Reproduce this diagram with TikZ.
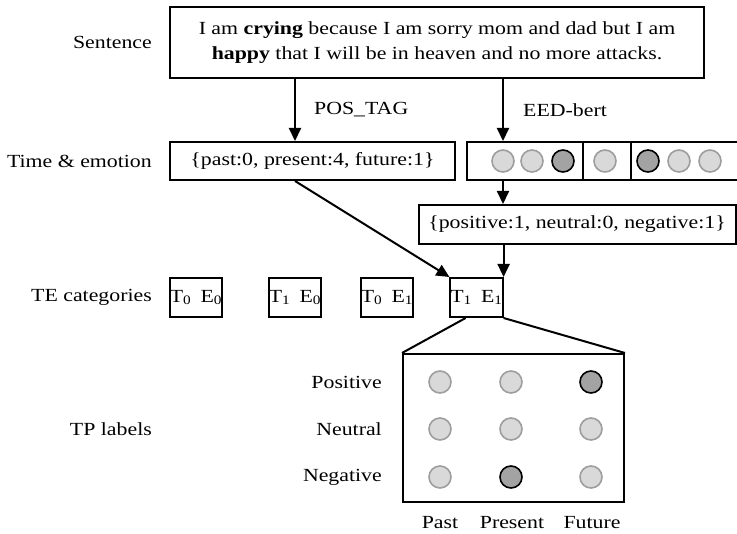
\documentclass[tikz,border=0pt]{standalone}
\usepackage{fontspec}
\setmainfont{Liberation Serif}[FakeStretch=1.18]
\usetikzlibrary{arrows.meta,calc}
\tikzstyle{txt}=[inner sep=0pt, font=\fontsize{18.5}{25}\selectfont]
\tikzstyle{box}=[txt, draw, line width=2pt, rectangle]
\tikzstyle{tebox}=[box, minimum width=52pt, minimum height=39pt]
\tikzstyle{arr}=[line width=2pt, -{Triangle[length=13pt,width=12pt]}]
\tikzstyle{dotoff}=[circle, draw=black!38, fill=black!15, line width=1.6pt, minimum size=22pt, inner sep=0pt]
\tikzstyle{doton}=[dotoff, draw=black, fill=black!36]

\begin{document}
\begin{tikzpicture}[x=1pt, y=-1pt]
	\useasboundingbox (0,0) rectangle (737,534);

	% row labels on the left
	\node[txt, anchor=east] (lblsent) at (152,42) {Sentence};
	\node[txt, anchor=east] (lbltime) at (152,161) {Time \& emotion};
	\node[txt, anchor=east] (lblte) at (152,297) {TE categories};
	\node[txt, anchor=east] (lbltp) at (152,429) {TP labels};

	% sentence and its two readings
	\node[box, align=center, minimum width=534pt, minimum height=71pt] (sent) at (437,42.5)
		{I am \textbf{crying} because I am sorry mom and dad but I am\\
		 \textbf{happy} that I will be in heaven and no more attacks.};
	\node[box, minimum width=285pt, minimum height=38pt] (timebox) at (312.5,161)
		{\{past:0, present:4, future:1\}};
	\node[box, minimum width=280pt, minimum height=38pt] (emobox) at (607,161) {};
	\foreach \x/\s [count=\i] in {503/dotoff,532/dotoff,563/doton,605/dotoff,648/doton,679/dotoff,710/dotoff}
		\node[\s] (c\i) at (\x,161) {};
	\draw[line width=2pt] (583,142) -- (583,180);
	\draw[line width=2pt] (631,142) -- (631,180);
	\node[box, minimum width=317pt, minimum height=39pt] (polbox) at (577,224.5)
		{\{positive:1, neutral:0, negative:1\}};

	% TE categories
	\node[tebox] (te00) at (196,297.5) {T\textsubscript{0}\enspace E\textsubscript{0}};
	\node[tebox] (te10) at (295,297.5) {T\textsubscript{1}\enspace E\textsubscript{0}};
	\node[tebox] (te01) at (387,297.5) {T\textsubscript{0}\enspace E\textsubscript{1}};
	\node[tebox] (te11) at (476.5,297.5) {T\textsubscript{1}\enspace E\textsubscript{1}};

	% TP label grid
	\node[box, minimum width=221pt, minimum height=148pt] (tpbox) at (513.5,428) {};
	\foreach \n/\x/\y/\s in {g11/440/382/dotoff, g12/511/382/dotoff, g13/591/382/doton,
		g21/440/429/dotoff, g22/511/429/dotoff, g23/591/429/dotoff,
		g31/440/477/dotoff, g32/511/477/doton, g33/591/477/dotoff}
		\node[\s] (\n) at (\x,\y) {};
	\node[txt, anchor=east] (rpos) at (382,382) {Positive};
	\node[txt, anchor=east] (rneu) at (382,429) {Neutral};
	\node[txt, anchor=east] (rneg) at (382,477) {Negative};
	\node[txt] (cpast) at (440,523) {Past};
	\node[txt] (cpres) at (512,523) {Present};
	\node[txt] (cfut) at (592,523) {Future};

	% connectors
	\coordinate (p1) at (295,0);
	\draw[arr] (sent.south -| p1) -- (timebox.north -| p1);
	\draw[arr] (sent.south -| c1) -- (emobox.north -| c1);
	\node[txt, anchor=west] (postag) at (314,110) {POS\_TAG};
	\node[txt, anchor=west] (eedbert) at (523,110) {EED-bert};
	\draw[arr] (emobox.south -| c1) -- (polbox.north -| c1);
	\draw[arr] (polbox.south -| te11.north east) -- (te11.north east);
	\draw[arr] (timebox.south -| p1) -- (te11.north west);
	\draw[line width=2pt] ($(te11.south west)!0.3!(te11.south east)$) -- (tpbox.north west);
	\draw[line width=2pt] (te11.south east) -- (tpbox.north east);
\end{tikzpicture}
\end{document}
